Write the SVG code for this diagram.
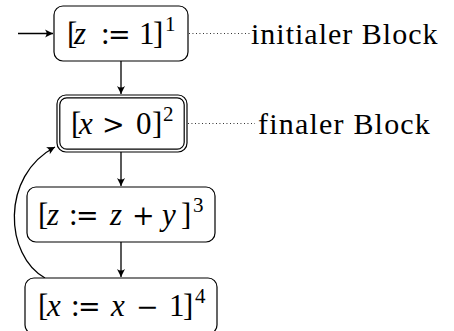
<svg xmlns="http://www.w3.org/2000/svg" width="454" height="331" viewBox="0 0 454 331">
<style>
.box{fill:#fff;stroke:#000;stroke-width:1.2}
.v{font-style:italic}
.edge{fill:none;stroke:#000;stroke-width:1.3}
.dot{fill:none;stroke:#000;stroke-width:0.9;stroke-dasharray:0.9 2.6}
</style>
<defs>
<marker id="ah" markerUnits="userSpaceOnUse" markerWidth="12" markerHeight="12" viewBox="-9 -6 10 12" refX="0" refY="0" orient="auto">
<path d="M0,0 L-8,-4 Q-5,0 -8,4 Z" fill="#000"/>
</marker>
</defs>
<rect width="454" height="331" fill="#fff"/>
<g id="connectors">
<line class="edge" x1="18" y1="33.5" x2="53" y2="33.5" marker-end="url(#ah)"/>
<line class="edge" x1="121" y1="61" x2="121" y2="94" marker-end="url(#ah)"/>
<line class="edge" x1="121" y1="152" x2="121" y2="186" marker-end="url(#ah)"/>
<line class="edge" x1="121" y1="242" x2="121" y2="277" marker-end="url(#ah)"/>
<path class="edge" d="M45,278 C5,256 0,176 55,147" marker-end="url(#ah)"/>
<line class="dot" x1="189" y1="33.5" x2="250" y2="33.5"/>
<line class="dot" x1="188" y1="123.5" x2="255" y2="123.5"/>
</g>
<g id="n1">
<rect class="box" x="54" y="6" width="134" height="55" rx="9"/>
<text font-family="Liberation Serif, serif" font-size="31" y="44"><tspan x="67">[</tspan><tspan class="v" x="74">z</tspan><tspan x="101">:</tspan><tspan font-size="27" font-family="DejaVu Serif, serif" x="108">=</tspan><tspan x="139">1</tspan><tspan x="153">]</tspan><tspan font-size="21" x="165" y="31">1</tspan></text>
</g>
<g id="n2">
<rect class="box" x="57" y="95" width="130" height="57" rx="9"/>
<rect class="box" x="59.8" y="97.8" width="124.4" height="51.4" rx="7" style="fill:none"/>
<text font-family="Liberation Serif, serif" font-size="31" y="134"><tspan x="71">[</tspan><tspan class="v" x="79">x</tspan><tspan font-size="27" font-family="DejaVu Serif, serif" x="102">&gt;</tspan><tspan x="136">0</tspan><tspan x="152">]</tspan><tspan font-size="21" x="163" y="121">2</tspan></text>
</g>
<g id="n3">
<rect class="box" x="27" y="187" width="188" height="55" rx="9"/>
<text font-family="Liberation Serif, serif" font-size="31" y="225"><tspan x="38">[</tspan><tspan class="v" x="47">z</tspan><tspan x="69">:</tspan><tspan font-size="27" font-family="DejaVu Serif, serif" x="76">=</tspan><tspan class="v" x="110">z</tspan><tspan font-size="27" font-family="DejaVu Serif, serif" x="132">+</tspan><tspan class="v" x="162">y</tspan><tspan x="181">]</tspan><tspan font-size="21" x="193" y="212">3</tspan></text>
</g>
<g id="n4">
<rect class="box" x="25" y="278" width="192" height="56" rx="9"/>
<text font-family="Liberation Serif, serif" font-size="31" y="316"><tspan x="38">[</tspan><tspan class="v" x="47">x</tspan><tspan x="71">:</tspan><tspan font-size="27" font-family="DejaVu Serif, serif" x="78">=</tspan><tspan class="v" x="111">x</tspan><tspan font-size="27" font-family="DejaVu Serif, serif" x="136">−</tspan><tspan x="169">1</tspan><tspan x="183">]</tspan><tspan font-size="21" x="195" y="303">4</tspan></text>
</g>
<g id="labels">
<text font-family="Liberation Serif, serif" font-size="30" letter-spacing="1" x="251" y="44">initialer Block</text>
<text font-family="Liberation Serif, serif" font-size="30" letter-spacing="1.2" x="258" y="134">finaler Block</text>
</g>
</svg>
